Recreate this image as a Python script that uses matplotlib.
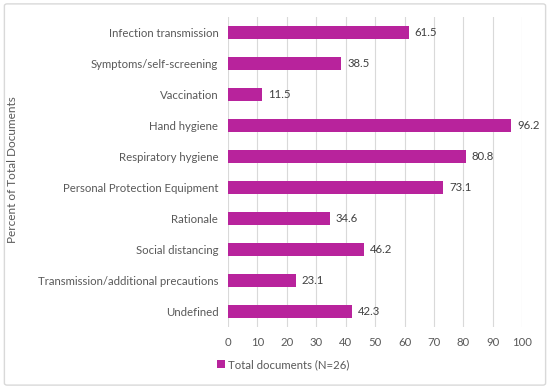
import matplotlib.pyplot as plt
from matplotlib.patches import FancyBboxPatch

# Данные
categories = ['Infection transmission', 'Symptoms/self-screening', 'Vaccination',
              'Hand hygiene', 'Respiratory hygiene', 'Personal Protection Equipment',
              'Rationale', 'Social distancing', 'Transmission/additional precautions',
              'Undefined']
values = [61.5, 38.5, 11.5, 96.2, 80.8, 73.1, 34.6, 46.2, 23.1, 42.3]
xticks = [0, 10, 20, 30, 40, 50, 60, 70, 80, 90, 100]

bar_color = '#B8239C'
text_color = '#595959'
plt.rcParams['font.family'] = ['Lato', 'DejaVu Sans']

fig = plt.figure(figsize=(5.5, 3.89), dpi=100)
ax = fig.add_axes([0.4145, 0.159, 0.535, 0.797])

# Рамка вокруг рисунка
fig.patches.append(FancyBboxPatch((0.008, 0.01), 0.984, 0.98, boxstyle='round,pad=0,rounding_size=0.005',
                                  transform=fig.transFigure, fill=False, edgecolor='#D9D9D9', linewidth=1))

y = list(range(len(categories)))
ax.barh(y, values, height=0.4, color=bar_color, label='Total documents (N=26)', zorder=3)
for yi, v in zip(y, values):
    ax.text(v + 2, yi, f'{v}', va='center', ha='left', fontsize=8.2, color='#404040')

ax.set_yticks(y)
ax.set_yticklabels(categories, fontsize=8.2, color=text_color)
ax.set_ylim(len(categories) - 0.5, -0.5)
ax.set_xlim(0, 100)
ax.set_xticks(xticks)
ax.set_xticklabels([str(t) for t in xticks], fontsize=8.2, color=text_color)
ax.tick_params(axis='y', length=0, pad=7)
ax.tick_params(axis='x', length=0, pad=7)
ax.xaxis.grid(True, color='#D9D9D9', linewidth=0.8, zorder=0)
for s in ax.spines.values():
    s.set_visible(False)

fig.text(0.022, 0.565, 'Percent of Total Documents', rotation=90, va='center', ha='center',
         fontsize=8.5, color=text_color)

fig.legend(loc='center', bbox_to_anchor=(0.515, 0.062), frameon=False,
           fontsize=8.2, handlelength=0.7, handleheight=0.7, handletextpad=0.3, labelcolor=text_color)

fig.savefig('out.png', dpi=100)
